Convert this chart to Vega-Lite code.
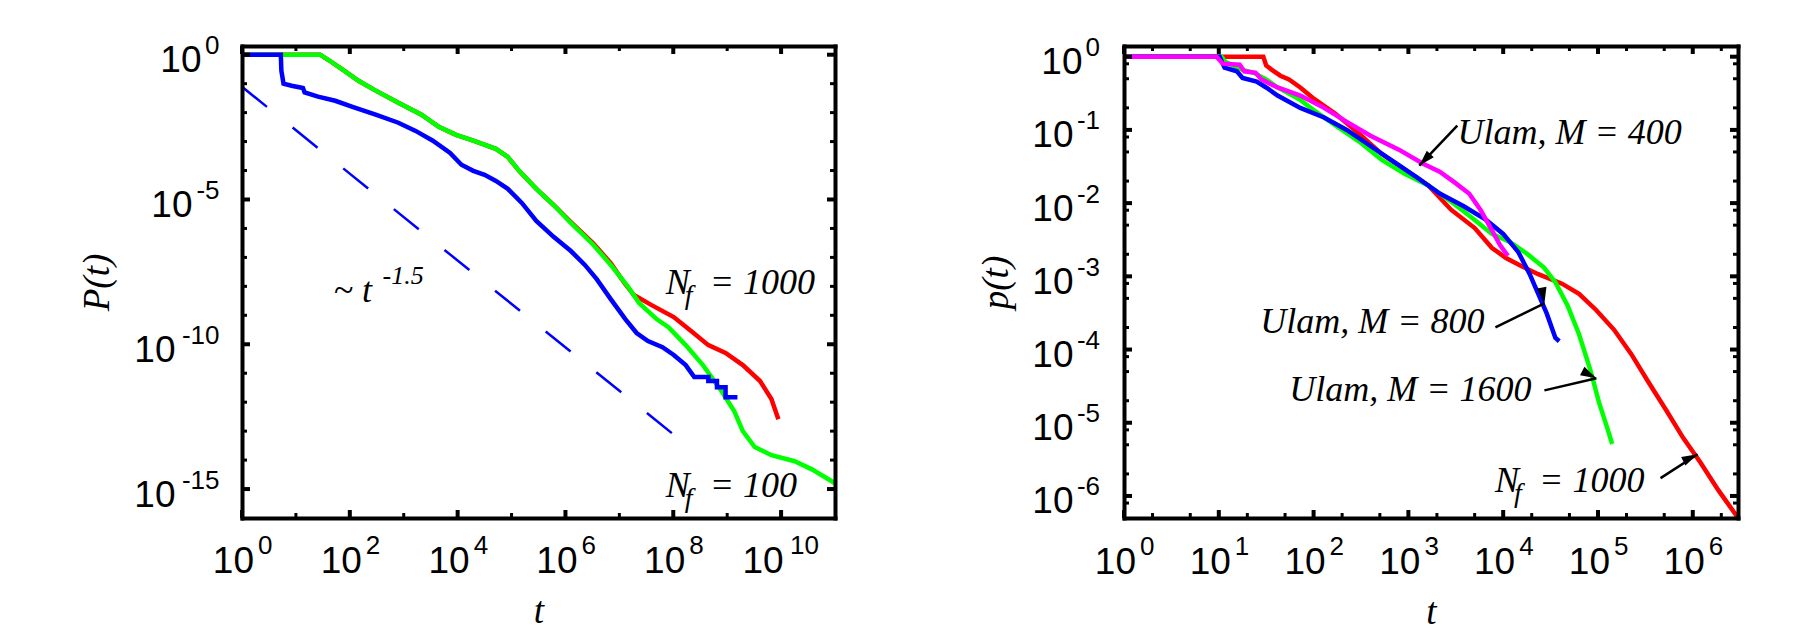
{
  "$schema": "https://vega.github.io/schema/vega-lite/v6.json",
  "background": "white",
  "padding": {"left": 78, "top": 32, "right": 5, "bottom": 0},
  "spacing": 140,
  "resolve": {"scale": {"color": "independent"}},
  "config": {
    "view": {"stroke": null},
    "axis": {
      "grid": false, "domain": false,
      "labelFont": "Liberation Sans", "labelColor": "#000000",
      "tickColor": "#000000", "domainColor": "#000000",
      "labelFlush": false, "labelOverlap": false, "labelBound": false,
      "titleFont": "Liberation Serif", "titleFontStyle": "italic", "titleFontWeight": "normal",
      "titleFontSize": 37, "titleColor": "#000000"
    },
    "rule": {"color": "#000000"},
    "text": {"font": "Liberation Serif", "fontStyle": "italic", "fontSize": 36, "color": "#000000"}
  },
  "datasets": {
    "pLeft": [
      {"series": "N_f = 1000", "t": 1, "P": 1},
      {"series": "N_f = 1000", "t": 28.2, "P": 1},
      {"series": "N_f = 1000", "t": 41.7, "P": 0.631},
      {"series": "N_f = 1000", "t": 69.2, "P": 0.331},
      {"series": "N_f = 1000", "t": 145, "P": 0.126},
      {"series": "N_f = 1000", "t": 302, "P": 0.0575},
      {"series": "N_f = 1000", "t": 794, "P": 0.0219},
      {"series": "N_f = 1000", "t": 2138, "P": 0.00851},
      {"series": "N_f = 1000", "t": 4467, "P": 0.00324},
      {"series": "N_f = 1000", "t": 9333, "P": 0.0017},
      {"series": "N_f = 1000", "t": 19498, "P": 0.00107},
      {"series": "N_f = 1000", "t": 51286, "P": 5.62e-4},
      {"series": "N_f = 1000", "t": 85114, "P": 2.95e-4},
      {"series": "N_f = 1000", "t": 1.38e5, "P": 9.77e-5},
      {"series": "N_f = 1000", "t": 2.88e5, "P": 2.34e-5},
      {"series": "N_f = 1000", "t": 6.03e5, "P": 6.46e-6},
      {"series": "N_f = 1000", "t": 1.26e6, "P": 1.66e-6},
      {"series": "N_f = 1000", "t": 3.31e6, "P": 3.02e-7},
      {"series": "N_f = 1000", "t": 6.92e6, "P": 6.31e-8},
      {"series": "N_f = 1000", "t": 1.26e7, "P": 1.26e-8},
      {"series": "N_f = 1000", "t": 1.86e7, "P": 5.01e-9},
      {"series": "N_f = 1000", "t": 3.89e7, "P": 2.29e-9},
      {"series": "N_f = 1000", "t": 1.02e8, "P": 8.71e-10},
      {"series": "N_f = 1000", "t": 2.14e8, "P": 2.88e-10},
      {"series": "N_f = 1000", "t": 4.47e8, "P": 9.33e-11},
      {"series": "N_f = 1000", "t": 9.33e8, "P": 5.01e-11},
      {"series": "N_f = 1000", "t": 1.95e9, "P": 1.91e-11},
      {"series": "N_f = 1000", "t": 4.07e9, "P": 5.37e-12},
      {"series": "N_f = 1000", "t": 6.61e9, "P": 1.29e-12},
      {"series": "N_f = 1000", "t": 8.91e9, "P": 2.57e-13},
      {"series": "N_f = 100", "t": 1, "P": 1},
      {"series": "N_f = 100", "t": 28.2, "P": 1},
      {"series": "N_f = 100", "t": 41.7, "P": 0.631},
      {"series": "N_f = 100", "t": 69.2, "P": 0.331},
      {"series": "N_f = 100", "t": 145, "P": 0.126},
      {"series": "N_f = 100", "t": 302, "P": 0.0575},
      {"series": "N_f = 100", "t": 794, "P": 0.0219},
      {"series": "N_f = 100", "t": 2138, "P": 0.00851},
      {"series": "N_f = 100", "t": 4467, "P": 0.00324},
      {"series": "N_f = 100", "t": 9333, "P": 0.0017},
      {"series": "N_f = 100", "t": 19498, "P": 0.00107},
      {"series": "N_f = 100", "t": 51286, "P": 5.62e-4},
      {"series": "N_f = 100", "t": 85114, "P": 2.95e-4},
      {"series": "N_f = 100", "t": 1.38e5, "P": 9.77e-5},
      {"series": "N_f = 100", "t": 2.88e5, "P": 2.34e-5},
      {"series": "N_f = 100", "t": 6.03e5, "P": 6.46e-6},
      {"series": "N_f = 100", "t": 1.26e6, "P": 1.55e-6},
      {"series": "N_f = 100", "t": 3.31e6, "P": 2.69e-7},
      {"series": "N_f = 100", "t": 6.92e6, "P": 5.5e-8},
      {"series": "N_f = 100", "t": 1.45e7, "P": 9.55e-9},
      {"series": "N_f = 100", "t": 2.34e7, "P": 2.63e-9},
      {"series": "N_f = 100", "t": 4.9e7, "P": 7.41e-10},
      {"series": "N_f = 100", "t": 8.13e7, "P": 3.89e-10},
      {"series": "N_f = 100", "t": 1.7e8, "P": 9.33e-11},
      {"series": "N_f = 100", "t": 3.55e8, "P": 1.91e-11},
      {"series": "N_f = 100", "t": 7.41e8, "P": 2.82e-12},
      {"series": "N_f = 100", "t": 1.35e9, "P": 4.9e-13},
      {"series": "N_f = 100", "t": 1.95e9, "P": 1e-13},
      {"series": "N_f = 100", "t": 3.24e9, "P": 2.82e-14},
      {"series": "N_f = 100", "t": 6.61e9, "P": 1.48e-14},
      {"series": "N_f = 100", "t": 1.78e10, "P": 9.12e-15},
      {"series": "N_f = 100", "t": 3.72e10, "P": 4.79e-15},
      {"series": "N_f = 100", "t": 8.71e10, "P": 1.86e-15},
      {"series": "N_f = 100", "t": 1e11, "P": 1.58e-15},
      {"series": "unlabelled", "t": 1, "P": 1},
      {"series": "unlabelled", "t": 5.25, "P": 1},
      {"series": "unlabelled", "t": 5.37, "P": 0.282},
      {"series": "unlabelled", "t": 5.89, "P": 0.1},
      {"series": "unlabelled", "t": 8.32, "P": 0.0851},
      {"series": "unlabelled", "t": 13.5, "P": 0.0708},
      {"series": "unlabelled", "t": 14.5, "P": 0.0501},
      {"series": "unlabelled", "t": 25.7, "P": 0.0355},
      {"series": "unlabelled", "t": 53.7, "P": 0.0257},
      {"series": "unlabelled", "t": 112, "P": 0.0158},
      {"series": "unlabelled", "t": 302, "P": 0.00851},
      {"series": "unlabelled", "t": 794, "P": 0.00447},
      {"series": "unlabelled", "t": 1660, "P": 0.00234},
      {"series": "unlabelled", "t": 3467, "P": 0.00107},
      {"series": "unlabelled", "t": 7244, "P": 4.07e-4},
      {"series": "unlabelled", "t": 11750, "P": 1.585e-4},
      {"series": "unlabelled", "t": 19498, "P": 9.77e-5},
      {"series": "unlabelled", "t": 31623, "P": 7.08e-5},
      {"series": "unlabelled", "t": 51286, "P": 4.37e-5},
      {"series": "unlabelled", "t": 85114, "P": 2.34e-5},
      {"series": "unlabelled", "t": 1.55e5, "P": 7.59e-6},
      {"series": "unlabelled", "t": 2.88e5, "P": 1.82e-6},
      {"series": "unlabelled", "t": 6.03e5, "P": 5.13e-7},
      {"series": "unlabelled", "t": 1.26e6, "P": 1.66e-7},
      {"series": "unlabelled", "t": 2.29e6, "P": 5.5e-8},
      {"series": "unlabelled", "t": 3.8e6, "P": 1.78e-8},
      {"series": "unlabelled", "t": 6.92e6, "P": 3.63e-9},
      {"series": "unlabelled", "t": 1.29e7, "P": 7.41e-10},
      {"series": "unlabelled", "t": 2.09e7, "P": 2.45e-10},
      {"series": "unlabelled", "t": 3.39e7, "P": 1.29e-10},
      {"series": "unlabelled", "t": 6.31e7, "P": 7.94e-11},
      {"series": "unlabelled", "t": 1.02e8, "P": 4.27e-11},
      {"series": "unlabelled", "t": 1.7e8, "P": 1.91e-11},
      {"series": "unlabelled", "t": 2.45e8, "P": 7.41e-12},
      {"series": "unlabelled", "t": 4.47e8, "P": 7.41e-12},
      {"series": "unlabelled", "t": 4.47e8, "P": 5.37e-12},
      {"series": "unlabelled", "t": 6.46e8, "P": 5.37e-12},
      {"series": "unlabelled", "t": 6.46e8, "P": 3.31e-12},
      {"series": "unlabelled", "t": 9.33e8, "P": 3.31e-12},
      {"series": "unlabelled", "t": 9.33e8, "P": 1.48e-12},
      {"series": "unlabelled", "t": 1.55e9, "P": 1.48e-12}
    ],
    "slope": [
      {"t": 1, "P": 0.078},
      {"t": 1.17e8, "P": 6.16e-14}
    ],
    "majorLx": [{"t": 1}, {"t": 1e2}, {"t": 1e4}, {"t": 1e6}, {"t": 1e8}, {"t": 1e10}],
    "minorLx": [{"t": 10}, {"t": 1e3}, {"t": 1e5}, {"t": 1e7}, {"t": 1e9}],
    "majorLy": [{"P": 1}, {"P": 1e-5}, {"P": 1e-10}, {"P": 1e-15}],
    "minorLy": [{"P": 0.1}, {"P": 0.01}, {"P": 0.001}, {"P": 1e-4}, {"P": 1e-6}, {"P": 1e-7}, {"P": 1e-8}, {"P": 1e-9}, {"P": 1e-11}, {"P": 1e-12}, {"P": 1e-13}, {"P": 1e-14}],
    "nfLeft": [
      {"rest": "= 1000", "t": 7.24e7, "P": 5.37e-9},
      {"rest": "= 100", "t": 7.24e7, "P": 5.13e-16}
    ],
    "powLeft": [
      {"base": "~ t", "sup": "-1.5", "t": 49.8, "P": 2.84e-9}
    ],
    "pRight": [
      {"series": "N_f = 1000", "t": 1, "p": 1},
      {"series": "N_f = 1000", "t": 29.5, "p": 1},
      {"series": "N_f = 1000", "t": 31.6, "p": 0.759},
      {"series": "N_f = 1000", "t": 36.3, "p": 0.661},
      {"series": "N_f = 1000", "t": 44.7, "p": 0.55},
      {"series": "N_f = 1000", "t": 55, "p": 0.49},
      {"series": "N_f = 1000", "t": 72.4, "p": 0.38},
      {"series": "N_f = 1000", "t": 97.7, "p": 0.275},
      {"series": "N_f = 1000", "t": 170, "p": 0.166},
      {"series": "N_f = 1000", "t": 302, "p": 0.0891},
      {"series": "N_f = 1000", "t": 525, "p": 0.0468},
      {"series": "N_f = 1000", "t": 912, "p": 0.0288},
      {"series": "N_f = 1000", "t": 1622, "p": 0.0174},
      {"series": "N_f = 1000", "t": 2818, "p": 0.00813},
      {"series": "N_f = 1000", "t": 5012, "p": 0.00457},
      {"series": "N_f = 1000", "t": 7586, "p": 0.00245},
      {"series": "N_f = 1000", "t": 10715, "p": 0.00178},
      {"series": "N_f = 1000", "t": 15488, "p": 0.00138},
      {"series": "N_f = 1000", "t": 23442, "p": 0.00107},
      {"series": "N_f = 1000", "t": 41687, "p": 7.94e-4},
      {"series": "N_f = 1000", "t": 63096, "p": 5.75e-4},
      {"series": "N_f = 1000", "t": 95499, "p": 3.47e-4},
      {"series": "N_f = 1000", "t": 147911, "p": 1.86e-4},
      {"series": "N_f = 1000", "t": 223872, "p": 8.71e-5},
      {"series": "N_f = 1000", "t": 338844, "p": 3.63e-5},
      {"series": "N_f = 1000", "t": 524807, "p": 1.48e-5},
      {"series": "N_f = 1000", "t": 794328, "p": 6.17e-6},
      {"series": "N_f = 1000", "t": 1.2e6, "p": 2.88e-6},
      {"series": "N_f = 1000", "t": 1.86e6, "p": 1.2e-6},
      {"series": "N_f = 1000", "t": 2.82e6, "p": 5.62e-7},
      {"series": "N_f = 1000", "t": 3e6, "p": 5e-7},
      {"series": "Ulam, M = 1600", "t": 1, "p": 1},
      {"series": "Ulam, M = 1600", "t": 10.7, "p": 1},
      {"series": "Ulam, M = 1600", "t": 11.7, "p": 0.851},
      {"series": "Ulam, M = 1600", "t": 17.8, "p": 0.661},
      {"series": "Ulam, M = 1600", "t": 23.4, "p": 0.603},
      {"series": "Ulam, M = 1600", "t": 31.6, "p": 0.49},
      {"series": "Ulam, M = 1600", "t": 41.7, "p": 0.38},
      {"series": "Ulam, M = 1600", "t": 72.4, "p": 0.257},
      {"series": "Ulam, M = 1600", "t": 97.7, "p": 0.191},
      {"series": "Ulam, M = 1600", "t": 170, "p": 0.115},
      {"series": "Ulam, M = 1600", "t": 302, "p": 0.0692},
      {"series": "Ulam, M = 1600", "t": 525, "p": 0.0389},
      {"series": "Ulam, M = 1600", "t": 912, "p": 0.0251},
      {"series": "Ulam, M = 1600", "t": 1622, "p": 0.0174},
      {"series": "Ulam, M = 1600", "t": 2818, "p": 0.0105},
      {"series": "Ulam, M = 1600", "t": 5012, "p": 0.00589},
      {"series": "Ulam, M = 1600", "t": 7586, "p": 0.0038},
      {"series": "Ulam, M = 1600", "t": 11749, "p": 0.00295},
      {"series": "Ulam, M = 1600", "t": 17783, "p": 0.00204},
      {"series": "Ulam, M = 1600", "t": 26915, "p": 0.00132},
      {"series": "Ulam, M = 1600", "t": 35481, "p": 8.32e-4},
      {"series": "Ulam, M = 1600", "t": 47863, "p": 3.98e-4},
      {"series": "Ulam, M = 1600", "t": 63096, "p": 1.62e-4},
      {"series": "Ulam, M = 1600", "t": 83176, "p": 5.25e-5},
      {"series": "Ulam, M = 1600", "t": 102329, "p": 1.91e-5},
      {"series": "Ulam, M = 1600", "t": 123027, "p": 9.12e-6},
      {"series": "Ulam, M = 1600", "t": 141254, "p": 5.13e-6},
      {"series": "Ulam, M = 800", "t": 1, "p": 1},
      {"series": "Ulam, M = 800", "t": 10.2, "p": 1},
      {"series": "Ulam, M = 800", "t": 11.5, "p": 0.708},
      {"series": "Ulam, M = 800", "t": 15.5, "p": 0.631},
      {"series": "Ulam, M = 800", "t": 17.8, "p": 0.513},
      {"series": "Ulam, M = 800", "t": 25.1, "p": 0.457},
      {"series": "Ulam, M = 800", "t": 31.6, "p": 0.38},
      {"series": "Ulam, M = 800", "t": 41.7, "p": 0.295},
      {"series": "Ulam, M = 800", "t": 72.4, "p": 0.2},
      {"series": "Ulam, M = 800", "t": 129, "p": 0.148},
      {"series": "Ulam, M = 800", "t": 224, "p": 0.1},
      {"series": "Ulam, M = 800", "t": 398, "p": 0.0603},
      {"series": "Ulam, M = 800", "t": 692, "p": 0.0372},
      {"series": "Ulam, M = 800", "t": 1230, "p": 0.0224},
      {"series": "Ulam, M = 800", "t": 2138, "p": 0.0135},
      {"series": "Ulam, M = 800", "t": 3802, "p": 0.00912},
      {"series": "Ulam, M = 800", "t": 6607, "p": 0.00589},
      {"series": "Ulam, M = 800", "t": 10000, "p": 0.0038},
      {"series": "Ulam, M = 800", "t": 14454, "p": 0.00214},
      {"series": "Ulam, M = 800", "t": 19055, "p": 0.00107},
      {"series": "Ulam, M = 800", "t": 23442, "p": 5.75e-4},
      {"series": "Ulam, M = 800", "t": 28840, "p": 3.09e-4},
      {"series": "Ulam, M = 800", "t": 35481, "p": 1.45e-4},
      {"series": "Ulam, M = 800", "t": 39000, "p": 1.3e-4},
      {"series": "Ulam, M = 400", "t": 1, "p": 1},
      {"series": "Ulam, M = 400", "t": 9.48, "p": 1},
      {"series": "Ulam, M = 400", "t": 11, "p": 0.804},
      {"series": "Ulam, M = 400", "t": 16.6, "p": 0.776},
      {"series": "Ulam, M = 400", "t": 18.6, "p": 0.631},
      {"series": "Ulam, M = 400", "t": 24.5, "p": 0.603},
      {"series": "Ulam, M = 400", "t": 28.2, "p": 0.49},
      {"series": "Ulam, M = 400", "t": 41.7, "p": 0.38},
      {"series": "Ulam, M = 400", "t": 72.4, "p": 0.295},
      {"series": "Ulam, M = 400", "t": 129, "p": 0.2},
      {"series": "Ulam, M = 400", "t": 224, "p": 0.129},
      {"series": "Ulam, M = 400", "t": 398, "p": 0.0832},
      {"series": "Ulam, M = 400", "t": 794, "p": 0.0537},
      {"series": "Ulam, M = 400", "t": 1413, "p": 0.0347},
      {"series": "Ulam, M = 400", "t": 2138, "p": 0.0269},
      {"series": "Ulam, M = 400", "t": 3020, "p": 0.0195},
      {"series": "Ulam, M = 400", "t": 4365, "p": 0.0135},
      {"series": "Ulam, M = 400", "t": 5754, "p": 0.00813},
      {"series": "Ulam, M = 400", "t": 7586, "p": 0.00427},
      {"series": "Ulam, M = 400", "t": 9333, "p": 0.00263},
      {"series": "Ulam, M = 400", "t": 11220, "p": 0.00191}
    ],
    "majorRx": [{"t": 1}, {"t": 10}, {"t": 100}, {"t": 1000}, {"t": 1e4}, {"t": 1e5}, {"t": 1e6}],
    "minorRx": [{"t": 2}, {"t": 5}, {"t": 20}, {"t": 50}, {"t": 200}, {"t": 500}, {"t": 2000}, {"t": 5000}, {"t": 2e4}, {"t": 5e4}, {"t": 2e5}, {"t": 5e5}, {"t": 2e6}],
    "majorRy": [{"p": 1}, {"p": 0.1}, {"p": 0.01}, {"p": 0.001}, {"p": 1e-4}, {"p": 1e-5}, {"p": 1e-6}],
    "minorRy": [{"p": 0.8}, {"p": 0.5}, {"p": 0.2}, {"p": 0.08}, {"p": 0.05}, {"p": 0.02}, {"p": 0.008}, {"p": 0.005}, {"p": 0.002}, {"p": 8e-4}, {"p": 5e-4}, {"p": 2e-4}, {"p": 8e-5}, {"p": 5e-5}, {"p": 2e-5}, {"p": 8e-6}, {"p": 5e-6}, {"p": 2e-6}, {"p": 8e-7}],
    "ulam": [
      {"label": "Ulam, M = 400", "t": 3289, "p": 0.065},
      {"label": "Ulam, M = 800", "t": 27.35, "p": 1.66e-4},
      {"label": "Ulam, M = 1600", "t": 55.3, "p": 2.01e-5}
    ],
    "nfRight": [
      {"rest": "= 1000", "t": 8222, "p": 1.15e-6}
    ],
    "arrows": [
      {"label": "Ulam, M = 400", "t1": 3281, "p1": 0.1146, "t2": 1303, "p2": 0.0326},
      {"label": "Ulam, M = 800", "t1": 8279, "p1": 2.01e-4, "t2": 27227, "p2": 4.27e-4},
      {"label": "Ulam, M = 1600", "t1": 27227, "p1": 2.77e-5, "t2": 96383, "p2": 4.05e-5},
      {"label": "N_f = 1000", "t1": 457088, "p1": 1.75e-6, "t2": 1.125e6, "p2": 3.72e-6}
    ]
  },
  "hconcat": [
    {
      "width": 593,
      "height": 472,
      "resolve": {"axis": {"x": "independent", "y": "independent"}},
      "layer": [
        {
          "data": {"name": "pLeft"},
          "mark": {"type": "line", "strokeWidth": 4.5, "clip": true},
          "encoding": {
            "x": {
              "field": "t", "type": "quantitative",
              "scale": {"type": "log", "domain": [1, 1e11], "nice": false},
              "axis": {
                "orient": "bottom", "values": [1, 1e2, 1e4, 1e6, 1e8, 1e10],
                "ticks": false, "tickSize": 0, "labelExpr": "'10'",
                "labelAlign": "right", "labelBaseline": "alphabetic", "labelPadding": 54, "labelFontSize": 37,
                "labelOffset": {"condition": {"test": "datum.value > 1e9", "value": 2}, "value": 11.5},
                "title": "t", "titleX": 296.5, "titleY": 104.5, "titleAlign": "center", "titleBaseline": "alphabetic"
              }
            },
            "y": {
              "field": "P", "type": "quantitative",
              "scale": {"type": "log", "domain": [1e-16, 2], "nice": false},
              "axis": {
                "orient": "left", "values": [1, 1e-5, 1e-10, 1e-15],
                "ticks": false, "tickSize": 0, "labelExpr": "'10'",
                "labelAlign": "right", "labelBaseline": "alphabetic", "labelOffset": 17, "labelFontSize": 37,
                "labelPadding": {"condition": [{"test": "datum.value < 1e-7", "value": 67}, {"test": "datum.value < 0.5", "value": 50}], "value": 41},
                "title": "P(t)", "titleX": -134, "titleY": 236, "titleAngle": -90, "titleAlign": "center", "titleBaseline": "alphabetic"
              }
            },
            "color": {
              "field": "series", "type": "nominal",
              "scale": {"domain": ["N_f = 1000", "N_f = 100", "unlabelled"], "range": ["#ff0000", "#00ff00", "#0000ff"]},
              "legend": null
            }
          }
        },
        {
          "data": {"name": "slope"},
          "mark": {"type": "line", "color": "#0000ff", "strokeWidth": 2.5, "strokeDash": [32, 33], "clip": true},
          "encoding": {
            "x": {
              "field": "t", "type": "quantitative",
              "scale": {"type": "log", "domain": [1, 1e11], "nice": false},
              "axis": {
                "orient": "bottom", "values": [1, 1e2, 1e4, 1e6, 1e8, 1e10],
                "ticks": false, "tickSize": 0, "labelExpr": "'' + round(log(datum.value) / LN10)",
                "labelAlign": "left", "labelBaseline": "alphabetic", "labelPadding": 35.5, "labelFontSize": 26,
                "labelOffset": {"condition": {"test": "datum.value > 1e9", "value": 8.5}, "value": 15.5},
                "title": null
              }
            },
            "y": {
              "field": "P", "type": "quantitative",
              "scale": {"type": "log", "domain": [1e-16, 2], "nice": false},
              "axis": {
                "orient": "left", "values": [1, 1e-5, 1e-10, 1e-15],
                "ticks": false, "tickSize": 0, "labelExpr": "'' + round(log(datum.value) / LN10)",
                "labelAlign": "right", "labelBaseline": "alphabetic", "labelOffset": -1, "labelPadding": 23, "labelFontSize": 26,
                "title": null
              }
            }
          }
        },
        {
          "data": {"name": "majorLx"},
          "mark": {"type": "rule", "strokeWidth": 4, "y2Offset": -8},
          "encoding": {
            "x": {"field": "t", "type": "quantitative", "scale": {"type": "log", "domain": [1, 1e11], "nice": false},
              "axis": {"orient": "bottom", "values": [1, 1e2, 1e4, 1e6, 1e8, 1e10], "labelExpr": "''", "ticks": false,
                "domain": true, "domainWidth": 4, "domainCap": "square", "zindex": 1, "title": null}},
            "y": {"datum": 1e-16, "type": "quantitative", "scale": {"type": "log", "domain": [1e-16, 2], "nice": false},
              "axis": {"orient": "left", "values": [1, 1e-5, 1e-10, 1e-15], "labelExpr": "''", "ticks": false,
                "domain": true, "domainWidth": 4, "domainCap": "square", "zindex": 1, "title": null}},
            "y2": {"datum": 1e-16}
          }
        },
        {
          "data": {"name": "majorLx"},
          "mark": {"type": "rule", "strokeWidth": 4, "y2Offset": 8},
          "encoding": {
            "x": {"field": "t", "type": "quantitative", "scale": {"type": "log", "domain": [1, 1e11], "nice": false},
              "axis": {"orient": "top", "values": [1, 1e2, 1e4, 1e6, 1e8, 1e10], "labelExpr": "''", "ticks": false,
                "domain": true, "domainWidth": 4, "domainCap": "square", "zindex": 1, "title": null}},
            "y": {"datum": 2, "type": "quantitative", "scale": {"type": "log", "domain": [1e-16, 2], "nice": false},
              "axis": {"orient": "right", "values": [1, 1e-5, 1e-10, 1e-15], "labelExpr": "''", "ticks": false,
                "domain": true, "domainWidth": 4, "domainCap": "square", "zindex": 1, "title": null}},
            "y2": {"datum": 2}
          }
        },
        {
          "data": {"name": "minorLx"},
          "mark": {"type": "rule", "strokeWidth": 3, "y2Offset": -5},
          "encoding": {
            "x": {"field": "t", "type": "quantitative", "scale": {"type": "log", "domain": [1, 1e11], "nice": false}, "axis": null},
            "y": {"datum": 1e-16, "type": "quantitative", "scale": {"type": "log", "domain": [1e-16, 2], "nice": false}, "axis": null},
            "y2": {"datum": 1e-16}
          }
        },
        {
          "data": {"name": "minorLx"},
          "mark": {"type": "rule", "strokeWidth": 3, "y2Offset": 5},
          "encoding": {
            "x": {"field": "t", "type": "quantitative", "scale": {"type": "log", "domain": [1, 1e11], "nice": false}, "axis": null},
            "y": {"datum": 2, "type": "quantitative", "scale": {"type": "log", "domain": [1e-16, 2], "nice": false}, "axis": null},
            "y2": {"datum": 2}
          }
        },
        {
          "data": {"name": "majorLy"},
          "mark": {"type": "rule", "strokeWidth": 4, "x2Offset": 8},
          "encoding": {
            "y": {"field": "P", "type": "quantitative", "scale": {"type": "log", "domain": [1e-16, 2], "nice": false}, "axis": null},
            "x": {"datum": 1, "type": "quantitative", "scale": {"type": "log", "domain": [1, 1e11], "nice": false}, "axis": null},
            "x2": {"datum": 1}
          }
        },
        {
          "data": {"name": "majorLy"},
          "mark": {"type": "rule", "strokeWidth": 4, "x2Offset": -8},
          "encoding": {
            "y": {"field": "P", "type": "quantitative", "scale": {"type": "log", "domain": [1e-16, 2], "nice": false}, "axis": null},
            "x": {"datum": 1e11, "type": "quantitative", "scale": {"type": "log", "domain": [1, 1e11], "nice": false}, "axis": null},
            "x2": {"datum": 1e11}
          }
        },
        {
          "data": {"name": "minorLy"},
          "mark": {"type": "rule", "strokeWidth": 3, "x2Offset": 5},
          "encoding": {
            "y": {"field": "P", "type": "quantitative", "scale": {"type": "log", "domain": [1e-16, 2], "nice": false}, "axis": null},
            "x": {"datum": 1, "type": "quantitative", "scale": {"type": "log", "domain": [1, 1e11], "nice": false}, "axis": null},
            "x2": {"datum": 1}
          }
        },
        {
          "data": {"name": "minorLy"},
          "mark": {"type": "rule", "strokeWidth": 3, "x2Offset": -5},
          "encoding": {
            "y": {"field": "P", "type": "quantitative", "scale": {"type": "log", "domain": [1e-16, 2], "nice": false}, "axis": null},
            "x": {"datum": 1e11, "type": "quantitative", "scale": {"type": "log", "domain": [1, 1e11], "nice": false}, "axis": null},
            "x2": {"datum": 1e11}
          }
        },
        {
          "data": {"name": "nfLeft"},
          "mark": {"type": "text", "text": "N", "align": "left", "baseline": "alphabetic"},
          "encoding": {
            "x": {"field": "t", "type": "quantitative", "scale": {"type": "log", "domain": [1, 1e11], "nice": false}, "axis": null},
            "y": {"field": "P", "type": "quantitative", "scale": {"type": "log", "domain": [1e-16, 2], "nice": false}, "axis": null}
          }
        },
        {
          "data": {"name": "nfLeft"},
          "mark": {"type": "text", "text": "f", "align": "left", "baseline": "alphabetic", "fontSize": 28, "dx": 19, "dy": 10},
          "encoding": {
            "x": {"field": "t", "type": "quantitative", "scale": {"type": "log", "domain": [1, 1e11], "nice": false}, "axis": null},
            "y": {"field": "P", "type": "quantitative", "scale": {"type": "log", "domain": [1e-16, 2], "nice": false}, "axis": null}
          }
        },
        {
          "data": {"name": "nfLeft"},
          "mark": {"type": "text", "align": "left", "baseline": "alphabetic", "dx": 44},
          "encoding": {
            "text": {"field": "rest"},
            "x": {"field": "t", "type": "quantitative", "scale": {"type": "log", "domain": [1, 1e11], "nice": false}, "axis": null},
            "y": {"field": "P", "type": "quantitative", "scale": {"type": "log", "domain": [1e-16, 2], "nice": false}, "axis": null}
          }
        },
        {
          "data": {"name": "powLeft"},
          "mark": {"type": "text", "align": "left", "baseline": "alphabetic"},
          "encoding": {
            "text": {"field": "base"},
            "x": {"field": "t", "type": "quantitative", "scale": {"type": "log", "domain": [1, 1e11], "nice": false}, "axis": null},
            "y": {"field": "P", "type": "quantitative", "scale": {"type": "log", "domain": [1e-16, 2], "nice": false}, "axis": null}
          }
        },
        {
          "data": {"name": "powLeft"},
          "mark": {"type": "text", "align": "left", "baseline": "alphabetic", "fontSize": 26, "dx": 49, "dy": -18.5},
          "encoding": {
            "text": {"field": "sup"},
            "x": {"field": "t", "type": "quantitative", "scale": {"type": "log", "domain": [1, 1e11], "nice": false}, "axis": null},
            "y": {"field": "P", "type": "quantitative", "scale": {"type": "log", "domain": [1e-16, 2], "nice": false}, "axis": null}
          }
        }
      ]
    },
    {
      "width": 614,
      "height": 472,
      "resolve": {"axis": {"x": "independent", "y": "independent"}},
      "layer": [
        {
          "data": {"name": "pRight"},
          "mark": {"type": "line", "strokeWidth": 4.5, "clip": true},
          "encoding": {
            "x": {
              "field": "t", "type": "quantitative",
              "scale": {"type": "log", "domain": [1, 3e6], "nice": false},
              "axis": {
                "orient": "bottom", "values": [1, 10, 100, 1000, 1e4, 1e5, 1e6],
                "ticks": false, "tickSize": 0, "labelExpr": "'10'",
                "labelAlign": "right", "labelBaseline": "alphabetic", "labelPadding": 55, "labelFontSize": 37,
                "labelOffset": 11.5,
                "title": "t", "titleX": 307, "titleY": 105, "titleAlign": "center", "titleBaseline": "alphabetic"
              }
            },
            "y": {
              "field": "p", "type": "quantitative",
              "scale": {"type": "log", "domain": [5e-7, 1.4], "nice": false},
              "axis": {
                "orient": "left", "values": [1, 0.1, 0.01, 0.001, 1e-4, 1e-5, 1e-6],
                "ticks": false, "tickSize": 0, "labelExpr": "'10'",
                "labelAlign": "right", "labelBaseline": "alphabetic", "labelOffset": 17, "labelFontSize": 37,
                "labelPadding": {"condition": {"test": "datum.value < 0.5", "value": 51}, "value": 42},
                "title": "p(t)", "titleX": -117, "titleY": 236, "titleAngle": -90, "titleAlign": "center", "titleBaseline": "alphabetic"
              }
            },
            "color": {
              "field": "series", "type": "nominal",
              "scale": {"domain": ["N_f = 1000", "Ulam, M = 1600", "Ulam, M = 800", "Ulam, M = 400"], "range": ["#ff0000", "#00ff00", "#0000ff", "#ff00ff"]},
              "legend": null
            }
          }
        },
        {
          "data": {"name": "arrows"},
          "mark": {"type": "rule", "strokeWidth": 2.5},
          "encoding": {
            "x": {
              "field": "t1", "type": "quantitative",
              "scale": {"type": "log", "domain": [1, 3e6], "nice": false},
              "axis": {
                "orient": "bottom", "values": [1, 10, 100, 1000, 1e4, 1e5, 1e6],
                "ticks": false, "tickSize": 0, "labelExpr": "'' + round(log(datum.value) / LN10)",
                "labelAlign": "left", "labelBaseline": "alphabetic", "labelPadding": 36, "labelFontSize": 26,
                "labelOffset": 15.5, "title": null
              }
            },
            "y": {
              "field": "p1", "type": "quantitative",
              "scale": {"type": "log", "domain": [5e-7, 1.4], "nice": false},
              "axis": {
                "orient": "left", "values": [1, 0.1, 0.01, 0.001, 1e-4, 1e-5, 1e-6],
                "ticks": false, "tickSize": 0, "labelExpr": "'' + round(log(datum.value) / LN10)",
                "labelAlign": "right", "labelBaseline": "alphabetic", "labelOffset": -1, "labelPadding": 24.5, "labelFontSize": 26,
                "title": null
              }
            },
            "x2": {"field": "t2"},
            "y2": {"field": "p2"}
          }
        },
        {
          "data": {"name": "arrows"},
          "mark": {"type": "point", "shape": "M0,0L1.2,4L-1.2,4Z", "filled": true, "color": "#000000", "size": 64, "opacity": 1},
          "encoding": {
            "x": {"field": "t2", "type": "quantitative", "scale": {"type": "log", "domain": [1, 3e6], "nice": false},
              "axis": {"orient": "bottom", "values": [1, 10, 100, 1000, 1e4, 1e5, 1e6], "labelExpr": "''", "ticks": false,
                "domain": true, "domainWidth": 4, "domainCap": "square", "zindex": 1, "title": null}},
            "y": {"field": "p2", "type": "quantitative", "scale": {"type": "log", "domain": [5e-7, 1.4], "nice": false},
              "axis": {"orient": "left", "values": [1, 0.1, 0.01, 0.001, 1e-4, 1e-5, 1e-6], "labelExpr": "''", "ticks": false,
                "domain": true, "domainWidth": 4, "domainCap": "square", "zindex": 1, "title": null}},
            "angle": {
              "field": "label", "type": "nominal",
              "scale": {"domain": ["Ulam, M = 400", "Ulam, M = 800", "Ulam, M = 1600", "N_f = 1000"], "range": [223.5, 64, 77, 57]},
              "legend": null
            }
          }
        },
        {
          "data": {"name": "majorRx"},
          "mark": {"type": "rule", "strokeWidth": 4, "y2Offset": -8},
          "encoding": {
            "x": {"field": "t", "type": "quantitative", "scale": {"type": "log", "domain": [1, 3e6], "nice": false},
              "axis": {"orient": "top", "values": [1, 10, 100, 1000, 1e4, 1e5, 1e6], "labelExpr": "''", "ticks": false,
                "domain": true, "domainWidth": 4, "domainCap": "square", "zindex": 1, "title": null}},
            "y": {"datum": 5e-7, "type": "quantitative", "scale": {"type": "log", "domain": [5e-7, 1.4], "nice": false},
              "axis": {"orient": "right", "values": [1, 0.1, 0.01, 0.001, 1e-4, 1e-5, 1e-6], "labelExpr": "''", "ticks": false,
                "domain": true, "domainWidth": 4, "domainCap": "square", "zindex": 1, "title": null}},
            "y2": {"datum": 5e-7}
          }
        },
        {
          "data": {"name": "majorRx"},
          "mark": {"type": "rule", "strokeWidth": 4, "y2Offset": 8},
          "encoding": {
            "x": {"field": "t", "type": "quantitative", "scale": {"type": "log", "domain": [1, 3e6], "nice": false}, "axis": null},
            "y": {"datum": 1.4, "type": "quantitative", "scale": {"type": "log", "domain": [5e-7, 1.4], "nice": false}, "axis": null},
            "y2": {"datum": 1.4}
          }
        },
        {
          "data": {"name": "minorRx"},
          "mark": {"type": "rule", "strokeWidth": 3, "y2Offset": -5},
          "encoding": {
            "x": {"field": "t", "type": "quantitative", "scale": {"type": "log", "domain": [1, 3e6], "nice": false}, "axis": null},
            "y": {"datum": 5e-7, "type": "quantitative", "scale": {"type": "log", "domain": [5e-7, 1.4], "nice": false}, "axis": null},
            "y2": {"datum": 5e-7}
          }
        },
        {
          "data": {"name": "minorRx"},
          "mark": {"type": "rule", "strokeWidth": 3, "y2Offset": 5},
          "encoding": {
            "x": {"field": "t", "type": "quantitative", "scale": {"type": "log", "domain": [1, 3e6], "nice": false}, "axis": null},
            "y": {"datum": 1.4, "type": "quantitative", "scale": {"type": "log", "domain": [5e-7, 1.4], "nice": false}, "axis": null},
            "y2": {"datum": 1.4}
          }
        },
        {
          "data": {"name": "majorRy"},
          "mark": {"type": "rule", "strokeWidth": 4, "x2Offset": 8},
          "encoding": {
            "y": {"field": "p", "type": "quantitative", "scale": {"type": "log", "domain": [5e-7, 1.4], "nice": false}, "axis": null},
            "x": {"datum": 1, "type": "quantitative", "scale": {"type": "log", "domain": [1, 3e6], "nice": false}, "axis": null},
            "x2": {"datum": 1}
          }
        },
        {
          "data": {"name": "majorRy"},
          "mark": {"type": "rule", "strokeWidth": 4, "x2Offset": -8},
          "encoding": {
            "y": {"field": "p", "type": "quantitative", "scale": {"type": "log", "domain": [5e-7, 1.4], "nice": false}, "axis": null},
            "x": {"datum": 3e6, "type": "quantitative", "scale": {"type": "log", "domain": [1, 3e6], "nice": false}, "axis": null},
            "x2": {"datum": 3e6}
          }
        },
        {
          "data": {"name": "minorRy"},
          "mark": {"type": "rule", "strokeWidth": 3, "x2Offset": 5},
          "encoding": {
            "y": {"field": "p", "type": "quantitative", "scale": {"type": "log", "domain": [5e-7, 1.4], "nice": false}, "axis": null},
            "x": {"datum": 1, "type": "quantitative", "scale": {"type": "log", "domain": [1, 3e6], "nice": false}, "axis": null},
            "x2": {"datum": 1}
          }
        },
        {
          "data": {"name": "minorRy"},
          "mark": {"type": "rule", "strokeWidth": 3, "x2Offset": -5},
          "encoding": {
            "y": {"field": "p", "type": "quantitative", "scale": {"type": "log", "domain": [5e-7, 1.4], "nice": false}, "axis": null},
            "x": {"datum": 3e6, "type": "quantitative", "scale": {"type": "log", "domain": [1, 3e6], "nice": false}, "axis": null},
            "x2": {"datum": 3e6}
          }
        },
        {
          "data": {"name": "ulam"},
          "mark": {"type": "text", "align": "left", "baseline": "alphabetic"},
          "encoding": {
            "text": {"field": "label"},
            "x": {"field": "t", "type": "quantitative", "scale": {"type": "log", "domain": [1, 3e6], "nice": false}, "axis": null},
            "y": {"field": "p", "type": "quantitative", "scale": {"type": "log", "domain": [5e-7, 1.4], "nice": false}, "axis": null}
          }
        },
        {
          "data": {"name": "nfRight"},
          "mark": {"type": "text", "text": "N", "align": "left", "baseline": "alphabetic"},
          "encoding": {
            "x": {"field": "t", "type": "quantitative", "scale": {"type": "log", "domain": [1, 3e6], "nice": false}, "axis": null},
            "y": {"field": "p", "type": "quantitative", "scale": {"type": "log", "domain": [5e-7, 1.4], "nice": false}, "axis": null}
          }
        },
        {
          "data": {"name": "nfRight"},
          "mark": {"type": "text", "text": "f", "align": "left", "baseline": "alphabetic", "fontSize": 28, "dx": 19, "dy": 10},
          "encoding": {
            "x": {"field": "t", "type": "quantitative", "scale": {"type": "log", "domain": [1, 3e6], "nice": false}, "axis": null},
            "y": {"field": "p", "type": "quantitative", "scale": {"type": "log", "domain": [5e-7, 1.4], "nice": false}, "axis": null}
          }
        },
        {
          "data": {"name": "nfRight"},
          "mark": {"type": "text", "align": "left", "baseline": "alphabetic", "dx": 44},
          "encoding": {
            "text": {"field": "rest"},
            "x": {"field": "t", "type": "quantitative", "scale": {"type": "log", "domain": [1, 3e6], "nice": false}, "axis": null},
            "y": {"field": "p", "type": "quantitative", "scale": {"type": "log", "domain": [5e-7, 1.4], "nice": false}, "axis": null}
          }
        }
      ]
    }
  ]
}
